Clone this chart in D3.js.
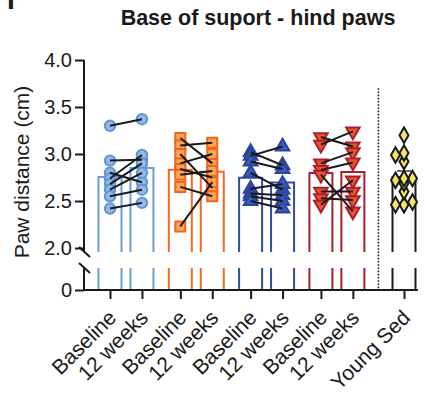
<!DOCTYPE html>
<html>
<head>
<meta charset="utf-8">
<script src="https://cdn.jsdelivr.net/npm/d3@7/dist/d3.min.js"></script>
<style>
  body { margin: 0; background: #fff; }
  text { font-family: "Liberation Sans", Arial, Helvetica, sans-serif; fill: #1a1a1a; }
</style>
</head>
<body>
<div id="chart"></div>
<script>
// tick labels along the x axis
const xLabels = ["Baseline", "12 weeks", "Baseline", "12 weeks", "Baseline", "12 weeks", "Baseline", "12 weeks", "Young Sed"];
const yTicks = [2.0, 2.5, 3.0, 3.5, 4.0];

// paired values (same index = same animal), in cm
const lightBlueBase = [3.30, 2.93, 2.80, 2.74, 2.68, 2.62, 2.55, 2.42];
const lightBlue12w = [3.37, 2.94, 2.70, 2.99, 2.90, 2.80, 2.62, 2.48];
const orangeBase = [3.17, 3.09, 3.00, 2.90, 2.84, 2.78, 2.65, 2.23];
const orange12w = [2.90, 3.12, 2.64, 3.00, 2.75, 2.82, 2.55, 2.70];
const darkBlueBase = [3.02, 2.98, 2.92, 2.80, 2.63, 2.58, 2.55, 2.50];
const darkBlue12w = [2.88, 3.08, 2.84, 2.62, 2.68, 2.56, 2.50, 2.42];
const redBase = [3.18, 3.10, 2.90, 2.83, 2.78, 2.60, 2.53, 2.46];
const red12w = [3.08, 3.24, 3.02, 2.91, 2.39, 2.60, 2.51, 2.72];
// unpaired group
const youngSed = [3.20, 3.01, 2.99, 2.92, 2.74, 2.74, 2.72, 2.69, 2.60, 2.49, 2.46, 2.46];

const pairs = [
  { base: lightBlueBase, wk: lightBlue12w, shape: "circle",   bar: "#6b9edb", fill: "#94b9e7", stroke: "#5f95d5" },
  { base: orangeBase,    wk: orange12w,    shape: "square",   bar: "#f26a25", fill: "#f8a650", stroke: "#f06424" },
  { base: darkBlueBase,  wk: darkBlue12w,  shape: "triangle", bar: "#2f4ca6", fill: "#3b5cb8", stroke: "#2a459e" },
  { base: redBase,       wk: red12w,       shape: "tridown",  bar: "#a6202e", fill: "#e5562c", stroke: "#ad1f2d" }
];

const W = 427, H = 396;
const svg = d3.select("#chart").append("svg")
  .attr("width", W).attr("height", H)
  .attr("viewBox", `0 0 ${W} ${H}`);

// x slot: pairs sit 1 apart, a small gap between pairs, bigger gap before Young Sed
function slot(i) {
  return i + 0.2 * Math.floor(i / 2) + (i === 8 ? 0.4 : 0);
}
const x = d3.scaleLinear().domain([0, 9.2]).range([110, 404]);
const yUp = d3.scaleLinear().domain([2, 4]).range([248, 60]);
const yLow = d3.scaleLinear().domain([0, 0.5]).range([290, 268]);
const upBottom = 252, lowTop = 268, axisX = 84;
const barW = 23;

const symbols = {
  circle: d3.symbol().type(d3.symbolCircle).size(85),
  square: d3.symbol().type(d3.symbolSquare).size(100),
  triangle: d3.symbol().type(d3.symbolTriangle).size(80),
  tridown: d3.symbol().type(d3.symbolTriangle).size(80)
};

// bars (open at the axis break)
function drawBar(cx, mean, color) {
  const l = cx - barW / 2, r = cx + barW / 2, t = yUp(mean);
  svg.append("path")
    .attr("d", `M${l},${upBottom}V${t}H${r}V${upBottom}`)
    .attr("fill", "#fff").attr("stroke", color).attr("stroke-width", 2);
  svg.append("path")
    .attr("d", `M${l},${lowTop}V${yLow(0)}M${r},${lowTop}V${yLow(0)}`)
    .attr("fill", "none").attr("stroke", color).attr("stroke-width", 2);
}

pairs.forEach((p, k) => {
  drawBar(x(slot(2 * k)), d3.mean(p.base), p.bar);
  drawBar(x(slot(2 * k + 1)), d3.mean(p.wk), p.bar);
});
const ysMean = d3.mean(youngSed);
const ysSem = d3.deviation(youngSed) / Math.sqrt(youngSed.length);
drawBar(x(slot(8)), ysMean, "#1a1a1a");

// points + connecting lines for paired groups
pairs.forEach((p, k) => {
  const x0 = x(slot(2 * k)), x1 = x(slot(2 * k + 1));
  const g = svg.append("g");
  const rot = p.shape === "tridown" ? " rotate(180)" : "";
  [[p.base, x0], [p.wk, x1]].forEach(([vals, cx]) => {
    g.selectAll(null).data(vals).join("path")
      .attr("d", symbols[p.shape])
      .attr("transform", d => `translate(${cx},${yUp(d)})${rot}`)
      .attr("fill", p.fill).attr("stroke", p.stroke).attr("stroke-width", 2);
  });
  g.selectAll(null).data(p.base).join("line")
    .attr("x1", x0).attr("x2", x1)
    .attr("y1", d => yUp(d)).attr("y2", (d, i) => yUp(p.wk[i]))
    .attr("stroke", "#1a1a1a").attr("stroke-width", 2);
});

// Young Sed error bar (mean +/- SEM)
const ysx = x(slot(8));
svg.append("path")
  .attr("d", `M${ysx},${yUp(ysMean - ysSem)}V${yUp(ysMean + ysSem)}M${ysx - 7},${yUp(ysMean + ysSem)}H${ysx + 7}`)
  .attr("stroke", "#6a6a6a").attr("stroke-width", 2).attr("fill", "none");

// Young Sed scatter, small swarm so close values spread sideways
const step = 8.5, minDist = 8;
const placed = [];
youngSed.map(v => v).sort((a, b) => a - b).forEach(v => {
  const py = yUp(v);
  let best = null, bestD = -1;
  for (const o of [0, -step, step]) {
    const dmin = d3.min(placed, q => Math.hypot(q.x - o, q.y - py)) ?? Infinity;
    if (dmin >= minDist) { best = o; break; }
    if (dmin > bestD) { bestD = dmin; best = o; }
  }
  placed.push({ x: best, y: py, v: v });
});
svg.append("g").selectAll("path").data(placed).join("path")
  .attr("d", d3.symbol().type(d3.symbolDiamond).size(70))
  .attr("transform", d => `translate(${ysx + d.x},${d.y})`)
  .attr("fill", "#f4e46c").attr("stroke", "#1a1a1a").attr("stroke-width", 2);

// dotted separator before Young Sed
svg.append("line")
  .attr("x1", x(8.4)).attr("x2", x(8.4))
  .attr("y1", yUp(3.7)).attr("y2", yLow(0))
  .attr("stroke", "#1a1a1a").attr("stroke-width", 1.6).attr("stroke-dasharray", "1.6,1.6");

// y axis, upper segment
const gUp = svg.append("g").attr("transform", `translate(${axisX},0)`)
  .call(d3.axisLeft(yUp).tickValues(yTicks).tickFormat(d3.format(".1f")).tickSize(9).tickPadding(3));
gUp.select(".domain").remove();
gUp.append("line").attr("y1", 60).attr("y2", upBottom).attr("stroke", "#1a1a1a").attr("stroke-width", 2);

// y axis, lower segment
const gLow = svg.append("g").attr("transform", `translate(${axisX},0)`)
  .call(d3.axisLeft(yLow).tickValues([0]).tickFormat(d3.format("d")).tickSize(9).tickPadding(3));
gLow.select(".domain").remove();
gLow.append("line").attr("y1", lowTop).attr("y2", yLow(0)).attr("stroke", "#1a1a1a").attr("stroke-width", 2);

[gUp, gLow].forEach(g => {
  g.selectAll(".tick line").attr("stroke", "#1a1a1a").attr("stroke-width", 2);
  g.selectAll(".tick text").attr("font-size", 20).attr("fill", "#1a1a1a");
});

// break marks
[upBottom, lowTop].forEach(yy => {
  svg.append("line")
    .attr("x1", axisX - 5).attr("y1", yy - 5).attr("x2", axisX + 6).attr("y2", yy + 5)
    .attr("stroke", "#1a1a1a").attr("stroke-width", 2);
});

// x axis
const gx = svg.append("g").attr("transform", `translate(0,${yLow(0)})`)
  .call(d3.axisBottom(x).tickValues(xLabels.map((d, i) => slot(i))).tickFormat((d, i) => xLabels[i]).tickSize(9));
gx.select(".domain").remove();
gx.append("line").attr("x1", axisX - 1).attr("x2", 418).attr("stroke", "#1a1a1a").attr("stroke-width", 2);
gx.selectAll(".tick line").attr("stroke", "#1a1a1a").attr("stroke-width", 2);
gx.selectAll(".tick text")
  .attr("font-size", 21).attr("fill", "#1a1a1a")
  .attr("text-anchor", "end")
  .attr("x", 0).attr("y", 0).attr("dy", 0)
  .attr("transform", "translate(7,29) rotate(-45)");

// titles
svg.append("text")
  .attr("x", 258).attr("y", 25)
  .attr("text-anchor", "middle")
  .attr("font-size", 21.5).attr("font-weight", "bold")
  .text("Base of suport - hind paws");

svg.append("text")
  .attr("transform", "translate(29,172) rotate(-90)")
  .attr("text-anchor", "middle")
  .attr("font-size", 21)
  .text("Paw distance (cm)");

// panel letter, cut at the top edge
svg.append("text")
  .attr("x", 7).attr("y", 9)
  .attr("font-size", 28).attr("font-weight", "bold")
  .text("I");
</script>
</body>
</html>
